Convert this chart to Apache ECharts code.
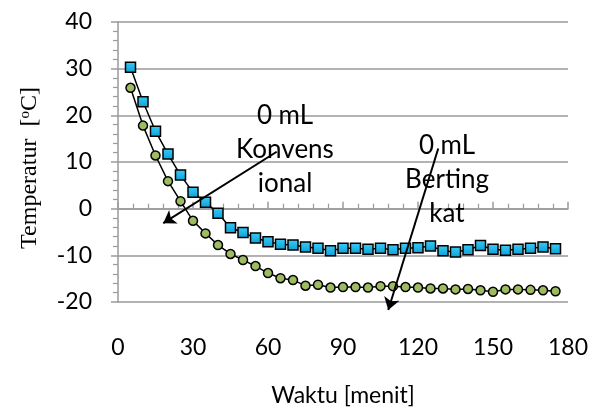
<!DOCTYPE html>
<html>
<head>
<meta charset="utf-8">
<script src="https://cdn.jsdelivr.net/npm/echarts@6/dist/echarts.min.js"></script>
<style>
  html, body { margin: 0; padding: 0; background: #fff; }
  #chart { width: 590px; height: 408px; }
</style>
</head>
<body>
<div id="chart"></div>
<script>
// waktu (menit)
var minutes = [5, 10, 15, 20, 25, 30, 35, 40, 45, 50, 55, 60, 65, 70, 75, 80, 85, 90,
               95, 100, 105, 110, 115, 120, 125, 130, 135, 140, 145, 150, 155, 160, 165, 170, 175];

// suhu - kotak biru (konvensional)
var tempKonvensional = [30.3, 22.9, 16.6, 11.7, 7.2, 3.5, 1.4, -1.0, -4.1, -5.1, -6.3, -7.1, -7.6, -7.8,
                        -8.2, -8.5, -9.0, -8.5, -8.5, -8.7, -8.5, -8.8, -8.5, -8.4, -8.0, -9.0, -9.3,
                        -8.8, -7.9, -8.7, -8.9, -8.7, -8.5, -8.2, -8.6];

// suhu - bulat hijau (bertingkat)
var tempBertingkat = [25.9, 17.8, 11.4, 5.9, 1.6, -2.6, -5.3, -7.8, -9.7, -11.0, -12.3, -13.8, -14.9, -15.3,
                      -16.5, -16.3, -16.9, -16.8, -16.8, -16.9, -16.6, -16.6, -16.8, -16.9, -17.1, -17.1,
                      -17.3, -17.2, -17.5, -17.8, -17.3, -17.3, -17.4, -17.5, -17.7];

var xTicks = { min: 0, max: 180, interval: 30 };
var yTicks = { min: -20, max: 40, interval: 10 };

// panah keterangan [awal, ujung] dalam koordinat data
var arrowKonvensional = [[63.5, 12.2], [18.1, -3.1]];
var arrowBertingkat = [[128.1, 12.9], [108.1, -21.7]];

// teks keterangan (titik tengah dalam koordinat data)
var noteKonvensional = { text: '0 mL\nKonvens\nional', at: [66.8, 12.6] };
var noteBertingkat = { text: '0 mL\nBerting\nkat', at: [131.6, 6.2] };

function pairs(xs, ys) {
    var out = [];
    for (var i = 0; i < xs.length; i++) out.push([xs[i], ys[i]]);
    return out;
}

var myChart = echarts.init(document.getElementById('chart'));

var gridColor = '#9a9a9a';
var labelFont = 'Lato';
var labelSize = 23;

var option = {
    animation: false,
    grid: { left: 118, right: 22, top: 22, bottom: 106, containLabel: false, outerBoundsMode: 'none' },
    xAxis: [
        {   // garis sumbu pada y = 0
            type: 'value',
            position: 'top',
            min: xTicks.min, max: xTicks.max, interval: xTicks.interval,
            axisLine: { show: true, onZero: true, lineStyle: { color: gridColor, width: 1.5 } },
            axisTick: { show: true, length: 7, lineStyle: { color: gridColor, width: 1.5 } },
            minorTick: { show: true, splitNumber: 5, length: 5, lineStyle: { color: gridColor, width: 1.2 } },
            axisLabel: { show: false },
            splitLine: { show: false }
        },
        {   // label sumbu di bawah
            type: 'value',
            position: 'bottom',
            min: xTicks.min, max: xTicks.max, interval: xTicks.interval,
            axisLine: { show: false, onZero: false },
            axisTick: { show: false },
            axisLabel: { show: true, margin: 34, fontSize: labelSize, fontFamily: labelFont, color: '#000' },
            splitLine: { show: false },
            name: 'Waktu [menit]',
            nameLocation: 'middle',
            nameGap: 82,
            nameTextStyle: { fontSize: labelSize, fontFamily: labelFont, color: '#000' }
        }
    ],
    yAxis: {
        type: 'value',
        min: yTicks.min, max: yTicks.max, interval: yTicks.interval,
        axisLine: { show: true, onZero: false, lineStyle: { color: gridColor, width: 1.5 } },
        axisTick: { show: true, length: 7, lineStyle: { color: gridColor, width: 1.5 } },
        minorTick: { show: true, splitNumber: 5, length: 5, lineStyle: { color: gridColor, width: 1.2 } },
        splitLine: { show: true, lineStyle: { color: gridColor, width: 1.5 } },
        axisLabel: { margin: 26, fontSize: labelSize, fontFamily: labelFont, color: '#000' }
    },
    series: [
        {
            name: 'Konvensional',
            type: 'line',
            xAxisIndex: 0,
            clip: false,
            data: pairs(minutes, tempKonvensional),
            symbol: 'rect',
            symbolSize: 10,
            lineStyle: { color: '#000', width: 1.5 },
            itemStyle: {
                color: new echarts.graphic.LinearGradient(0, 0, 0, 1, [
                    { offset: 0, color: '#3ccdf5' },
                    { offset: 1, color: '#0a9fd6' }
                ]),
                borderColor: '#000', borderWidth: 1.5
            },
            z: 3
        },
        {
            name: 'Bertingkat',
            type: 'line',
            xAxisIndex: 0,
            clip: false,
            data: pairs(minutes, tempBertingkat),
            symbol: 'circle',
            symbolSize: 9,
            lineStyle: { color: '#000', width: 1.5 },
            itemStyle: { color: '#9dbb61', borderColor: '#000', borderWidth: 1.5 },
            z: 2
        },
        {
            name: 'panah',
            type: 'lines',
            coordinateSystem: 'cartesian2d',
            xAxisIndex: 0,
            clip: false,
            silent: true,
            symbol: ['none', 'arrow'],
            symbolSize: 12,
            lineStyle: { color: '#000', width: 2, opacity: 1, curveness: 0 },
            data: [
                { coords: arrowKonvensional },
                { coords: arrowBertingkat }
            ],
            z: 5
        }
    ]
};

myChart.setOption(option, true);

// teks keterangan ditempatkan lewat koordinat data
function noteGraphic(id, note) {
    var p = myChart.convertToPixel({ gridIndex: 0 }, note.at);
    return {
        id: id,
        type: 'text',
        x: p[0], y: p[1],
        z: 10,
        style: {
            text: note.text,
            fontSize: 26,
            fontFamily: labelFont,
            lineHeight: 34,
            fill: '#000',
            align: 'center',
            verticalAlign: 'middle'
        }
    };
}

myChart.setOption({
    graphic: [
        {   // judul sumbu y (serif, diputar)
            id: 'yTitle',
            type: 'text',
            x: 30, y: 168,
            rotation: Math.PI / 2,
            style: {
                text: 'Temperatur  [{sup|o}C]',
                fontSize: 24,
                fontFamily: 'Liberation Serif',
                fill: '#000',
                align: 'center',
                verticalAlign: 'middle',
                rich: { sup: { fontSize: 15, fontFamily: 'Liberation Serif', fill: '#000', verticalAlign: 'top' } }
            }
        },
        noteGraphic('noteK', noteKonvensional),
        noteGraphic('noteB', noteBertingkat)
    ]
});
</script>
</body>
</html>
